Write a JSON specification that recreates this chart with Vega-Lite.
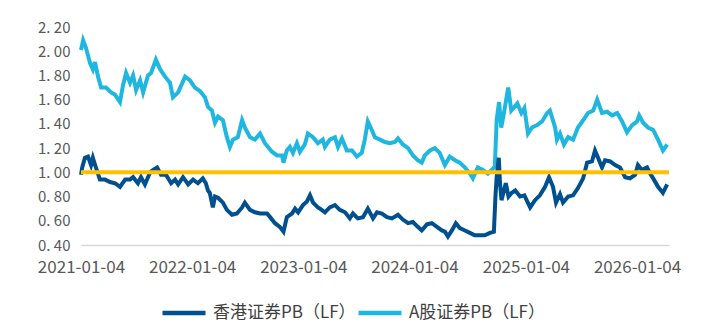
{
  "$schema": "https://vega.github.io/schema/vega-lite/v6.json",
  "width": 588,
  "height": 218,
  "autosize": {"type": "none"},
  "padding": {"left": 81, "top": 27, "right": 43, "bottom": 88},
  "background": "white",
  "config": {"view": {"stroke": null}, "font": "Noto Sans CJK SC"},
  "datasets": {
    "a": [
      {"d": "2021-01-04", "v": 2.01}, {"d": "2021-01-11", "v": 2.09}, {"d": "2021-01-20", "v": 2.03}, {"d": "2021-02-03", "v": 1.90},
      {"d": "2021-02-12", "v": 1.85}, {"d": "2021-02-19", "v": 1.91}, {"d": "2021-03-01", "v": 1.79}, {"d": "2021-03-11", "v": 1.70},
      {"d": "2021-03-27", "v": 1.70}, {"d": "2021-04-13", "v": 1.66}, {"d": "2021-04-26", "v": 1.64}, {"d": "2021-05-12", "v": 1.58},
      {"d": "2021-05-22", "v": 1.72}, {"d": "2021-06-01", "v": 1.82}, {"d": "2021-06-14", "v": 1.74}, {"d": "2021-06-24", "v": 1.80},
      {"d": "2021-07-04", "v": 1.68}, {"d": "2021-07-17", "v": 1.76}, {"d": "2021-07-27", "v": 1.66}, {"d": "2021-08-12", "v": 1.80},
      {"d": "2021-08-22", "v": 1.82}, {"d": "2021-09-07", "v": 1.93}, {"d": "2021-09-21", "v": 1.85}, {"d": "2021-10-07", "v": 1.79},
      {"d": "2021-10-23", "v": 1.74}, {"d": "2021-11-02", "v": 1.62}, {"d": "2021-11-19", "v": 1.66}, {"d": "2021-12-12", "v": 1.79},
      {"d": "2021-12-28", "v": 1.76}, {"d": "2022-01-13", "v": 1.70}, {"d": "2022-01-30", "v": 1.67}, {"d": "2022-02-15", "v": 1.62},
      {"d": "2022-02-25", "v": 1.54}, {"d": "2022-03-10", "v": 1.51}, {"d": "2022-03-20", "v": 1.41}, {"d": "2022-03-30", "v": 1.46},
      {"d": "2022-04-15", "v": 1.43}, {"d": "2022-04-28", "v": 1.29}, {"d": "2022-05-08", "v": 1.21}, {"d": "2022-05-18", "v": 1.27},
      {"d": "2022-06-03", "v": 1.29}, {"d": "2022-06-17", "v": 1.43}, {"d": "2022-06-26", "v": 1.37}, {"d": "2022-07-13", "v": 1.29},
      {"d": "2022-07-29", "v": 1.27}, {"d": "2022-08-15", "v": 1.32}, {"d": "2022-08-31", "v": 1.24}, {"d": "2022-09-23", "v": 1.17},
      {"d": "2022-10-10", "v": 1.14}, {"d": "2022-10-26", "v": 1.14}, {"d": "2022-10-31", "v": 1.08}, {"d": "2022-11-11", "v": 1.18},
      {"d": "2022-11-21", "v": 1.21}, {"d": "2022-12-01", "v": 1.16}, {"d": "2022-12-14", "v": 1.24}, {"d": "2022-12-24", "v": 1.17},
      {"d": "2023-01-09", "v": 1.23}, {"d": "2023-01-19", "v": 1.32}, {"d": "2023-02-05", "v": 1.29}, {"d": "2023-02-21", "v": 1.24},
      {"d": "2023-03-09", "v": 1.27}, {"d": "2023-03-16", "v": 1.21}, {"d": "2023-04-01", "v": 1.27}, {"d": "2023-04-18", "v": 1.29},
      {"d": "2023-04-28", "v": 1.21}, {"d": "2023-05-11", "v": 1.28}, {"d": "2023-05-27", "v": 1.18}, {"d": "2023-06-13", "v": 1.18},
      {"d": "2023-06-29", "v": 1.13}, {"d": "2023-07-15", "v": 1.16}, {"d": "2023-07-25", "v": 1.27}, {"d": "2023-08-04", "v": 1.42},
      {"d": "2023-08-17", "v": 1.35}, {"d": "2023-08-27", "v": 1.29}, {"d": "2023-09-13", "v": 1.27}, {"d": "2023-09-29", "v": 1.25},
      {"d": "2023-10-15", "v": 1.24}, {"d": "2023-11-01", "v": 1.25}, {"d": "2023-11-11", "v": 1.28}, {"d": "2023-11-27", "v": 1.23},
      {"d": "2023-12-14", "v": 1.20}, {"d": "2023-12-30", "v": 1.14}, {"d": "2024-01-15", "v": 1.10}, {"d": "2024-01-28", "v": 1.08},
      {"d": "2024-02-07", "v": 1.14}, {"d": "2024-02-24", "v": 1.18}, {"d": "2024-03-11", "v": 1.20}, {"d": "2024-03-27", "v": 1.16},
      {"d": "2024-04-13", "v": 1.06}, {"d": "2024-04-29", "v": 1.13}, {"d": "2024-05-16", "v": 1.10}, {"d": "2024-06-01", "v": 1.08},
      {"d": "2024-06-18", "v": 1.04}, {"d": "2024-07-04", "v": 0.99}, {"d": "2024-07-14", "v": 0.95}, {"d": "2024-07-30", "v": 1.04},
      {"d": "2024-08-16", "v": 1.02}, {"d": "2024-09-01", "v": 0.99}, {"d": "2024-09-18", "v": 1.03}, {"d": "2024-09-24", "v": 1.05},
      {"d": "2024-09-30", "v": 1.43}, {"d": "2024-10-08", "v": 1.58}, {"d": "2024-10-15", "v": 1.37}, {"d": "2024-10-24", "v": 1.49},
      {"d": "2024-11-07", "v": 1.70}, {"d": "2024-11-17", "v": 1.51}, {"d": "2024-11-27", "v": 1.54}, {"d": "2024-12-07", "v": 1.57},
      {"d": "2024-12-20", "v": 1.49}, {"d": "2024-12-30", "v": 1.53}, {"d": "2025-01-11", "v": 1.32}, {"d": "2025-01-24", "v": 1.37},
      {"d": "2025-02-10", "v": 1.39}, {"d": "2025-02-26", "v": 1.42}, {"d": "2025-03-15", "v": 1.49}, {"d": "2025-03-24", "v": 1.51},
      {"d": "2025-04-10", "v": 1.37}, {"d": "2025-04-16", "v": 1.27}, {"d": "2025-04-26", "v": 1.32}, {"d": "2025-05-09", "v": 1.23},
      {"d": "2025-05-23", "v": 1.29}, {"d": "2025-06-08", "v": 1.27}, {"d": "2025-06-24", "v": 1.37}, {"d": "2025-07-11", "v": 1.43},
      {"d": "2025-07-27", "v": 1.49}, {"d": "2025-08-13", "v": 1.51}, {"d": "2025-08-26", "v": 1.60}, {"d": "2025-09-11", "v": 1.49},
      {"d": "2025-09-28", "v": 1.50}, {"d": "2025-10-14", "v": 1.47}, {"d": "2025-10-31", "v": 1.49}, {"d": "2025-11-16", "v": 1.42},
      {"d": "2025-12-02", "v": 1.33}, {"d": "2025-12-19", "v": 1.39}, {"d": "2026-01-04", "v": 1.42}, {"d": "2026-01-11", "v": 1.47},
      {"d": "2026-01-24", "v": 1.41}, {"d": "2026-02-09", "v": 1.37}, {"d": "2026-02-26", "v": 1.35}, {"d": "2026-03-14", "v": 1.27},
      {"d": "2026-03-30", "v": 1.18}, {"d": "2026-04-13", "v": 1.23}
    ],
    "hk": [
      {"d": "2021-01-04", "v": 0.98}, {"d": "2021-01-08", "v": 1.04}, {"d": "2021-01-17", "v": 1.12}, {"d": "2021-01-27", "v": 1.13},
      {"d": "2021-02-06", "v": 1.06}, {"d": "2021-02-12", "v": 1.12}, {"d": "2021-02-22", "v": 1.04}, {"d": "2021-03-07", "v": 0.94},
      {"d": "2021-03-24", "v": 0.94}, {"d": "2021-04-09", "v": 0.92}, {"d": "2021-04-26", "v": 0.91}, {"d": "2021-05-12", "v": 0.88},
      {"d": "2021-05-29", "v": 0.94}, {"d": "2021-06-14", "v": 0.94}, {"d": "2021-06-24", "v": 0.96}, {"d": "2021-07-10", "v": 0.91},
      {"d": "2021-07-20", "v": 0.96}, {"d": "2021-08-02", "v": 0.90}, {"d": "2021-08-19", "v": 1.00}, {"d": "2021-08-29", "v": 1.02},
      {"d": "2021-09-11", "v": 1.04}, {"d": "2021-09-24", "v": 0.98}, {"d": "2021-10-10", "v": 0.98}, {"d": "2021-10-27", "v": 0.91},
      {"d": "2021-11-09", "v": 0.94}, {"d": "2021-11-19", "v": 0.90}, {"d": "2021-12-05", "v": 0.96}, {"d": "2021-12-22", "v": 0.90},
      {"d": "2022-01-07", "v": 0.94}, {"d": "2022-01-23", "v": 0.91}, {"d": "2022-02-08", "v": 0.95}, {"d": "2022-02-18", "v": 0.91},
      {"d": "2022-02-25", "v": 0.85}, {"d": "2022-03-03", "v": 0.83}, {"d": "2022-03-13", "v": 0.71}, {"d": "2022-03-20", "v": 0.80},
      {"d": "2022-03-30", "v": 0.79}, {"d": "2022-04-15", "v": 0.75}, {"d": "2022-04-28", "v": 0.69}, {"d": "2022-05-15", "v": 0.65},
      {"d": "2022-05-31", "v": 0.66}, {"d": "2022-06-17", "v": 0.71}, {"d": "2022-06-26", "v": 0.75}, {"d": "2022-07-13", "v": 0.69},
      {"d": "2022-07-29", "v": 0.67}, {"d": "2022-08-15", "v": 0.66}, {"d": "2022-09-07", "v": 0.66}, {"d": "2022-09-17", "v": 0.63},
      {"d": "2022-10-03", "v": 0.58}, {"d": "2022-10-19", "v": 0.55}, {"d": "2022-10-31", "v": 0.51}, {"d": "2022-11-11", "v": 0.63},
      {"d": "2022-11-28", "v": 0.66}, {"d": "2022-12-08", "v": 0.70}, {"d": "2022-12-18", "v": 0.67}, {"d": "2023-01-03", "v": 0.73},
      {"d": "2023-01-16", "v": 0.76}, {"d": "2023-01-26", "v": 0.81}, {"d": "2023-02-05", "v": 0.75}, {"d": "2023-02-21", "v": 0.71},
      {"d": "2023-02-28", "v": 0.70}, {"d": "2023-03-16", "v": 0.67}, {"d": "2023-04-01", "v": 0.71}, {"d": "2023-04-18", "v": 0.73},
      {"d": "2023-05-04", "v": 0.69}, {"d": "2023-05-21", "v": 0.67}, {"d": "2023-06-06", "v": 0.62}, {"d": "2023-06-16", "v": 0.66},
      {"d": "2023-07-02", "v": 0.62}, {"d": "2023-07-19", "v": 0.63}, {"d": "2023-08-04", "v": 0.70}, {"d": "2023-08-21", "v": 0.62},
      {"d": "2023-09-03", "v": 0.67}, {"d": "2023-09-19", "v": 0.66}, {"d": "2023-10-06", "v": 0.63}, {"d": "2023-10-22", "v": 0.62},
      {"d": "2023-11-11", "v": 0.65}, {"d": "2023-11-27", "v": 0.61}, {"d": "2023-12-14", "v": 0.58}, {"d": "2023-12-30", "v": 0.59},
      {"d": "2024-01-15", "v": 0.55}, {"d": "2024-01-28", "v": 0.52}, {"d": "2024-02-14", "v": 0.57}, {"d": "2024-03-01", "v": 0.58},
      {"d": "2024-03-18", "v": 0.55}, {"d": "2024-04-03", "v": 0.52}, {"d": "2024-04-13", "v": 0.51}, {"d": "2024-04-23", "v": 0.47},
      {"d": "2024-05-06", "v": 0.52}, {"d": "2024-05-19", "v": 0.58}, {"d": "2024-06-01", "v": 0.54}, {"d": "2024-06-18", "v": 0.52},
      {"d": "2024-07-04", "v": 0.50}, {"d": "2024-07-20", "v": 0.48}, {"d": "2024-08-06", "v": 0.48}, {"d": "2024-08-22", "v": 0.48},
      {"d": "2024-09-08", "v": 0.50}, {"d": "2024-09-21", "v": 0.51}, {"d": "2024-09-26", "v": 0.80}, {"d": "2024-09-30", "v": 0.96},
      {"d": "2024-10-07", "v": 1.12}, {"d": "2024-10-11", "v": 0.91}, {"d": "2024-10-16", "v": 0.77}, {"d": "2024-10-30", "v": 0.91},
      {"d": "2024-11-08", "v": 0.80}, {"d": "2024-11-18", "v": 0.83}, {"d": "2024-11-30", "v": 0.85}, {"d": "2024-12-16", "v": 0.80},
      {"d": "2024-12-30", "v": 0.81}, {"d": "2025-01-18", "v": 0.71}, {"d": "2025-02-03", "v": 0.77}, {"d": "2025-02-19", "v": 0.81},
      {"d": "2025-03-08", "v": 0.88}, {"d": "2025-03-21", "v": 0.96}, {"d": "2025-04-03", "v": 0.88}, {"d": "2025-04-13", "v": 0.75},
      {"d": "2025-04-26", "v": 0.82}, {"d": "2025-05-06", "v": 0.75}, {"d": "2025-05-23", "v": 0.80}, {"d": "2025-06-08", "v": 0.81},
      {"d": "2025-06-24", "v": 0.87}, {"d": "2025-07-11", "v": 0.95}, {"d": "2025-07-24", "v": 1.08}, {"d": "2025-08-09", "v": 1.09},
      {"d": "2025-08-19", "v": 1.18}, {"d": "2025-08-29", "v": 1.12}, {"d": "2025-09-11", "v": 1.04}, {"d": "2025-09-21", "v": 1.10},
      {"d": "2025-10-08", "v": 1.09}, {"d": "2025-10-24", "v": 1.06}, {"d": "2025-11-09", "v": 1.04}, {"d": "2025-11-26", "v": 0.96},
      {"d": "2025-12-12", "v": 0.95}, {"d": "2025-12-29", "v": 0.98}, {"d": "2026-01-07", "v": 1.06}, {"d": "2026-01-20", "v": 1.02},
      {"d": "2026-02-06", "v": 1.04}, {"d": "2026-02-16", "v": 0.99}, {"d": "2026-02-26", "v": 0.95}, {"d": "2026-03-14", "v": 0.88},
      {"d": "2026-03-30", "v": 0.83}, {"d": "2026-04-13", "v": 0.90}
    ],
    "ref": [{"v": 1.0}]
  },
  "encoding": {
    "y": {
      "field": "v",
      "type": "quantitative",
      "scale": {"domain": [0.4, 2.2], "nice": false, "zero": false},
      "axis": {
        "values": [0.4, 0.6, 0.8, 1.0, 1.2, 1.4, 1.6, 1.8, 2.0, 2.2],
        "labelExpr": "replace(format(datum.value, '.2f'), '.', '. ')",
        "domain": false, "ticks": false, "grid": false,
        "labelPadding": 11, "labelFontSize": 15, "labelColor": "#595959",
        "labelFont": "Noto Sans CJK SC", "title": null
      }
    }
  },
  "layer": [
    {
      "data": {"name": "a"},
      "mark": {"type": "line", "strokeWidth": 4},
      "encoding": {
        "x": {
          "field": "d", "type": "temporal",
          "scale": {"type": "utc", "domain": [{"year": 2021, "month": 1, "date": 4, "utc": true}, {"year": 2026, "month": 4, "date": 19, "utc": true}]},
          "axis": {
            "values": [{"year": 2021, "month": 1, "date": 4, "utc": true}, {"year": 2022, "month": 1, "date": 4, "utc": true}, {"year": 2023, "month": 1, "date": 4, "utc": true}, {"year": 2024, "month": 1, "date": 4, "utc": true}, {"year": 2025, "month": 1, "date": 4, "utc": true}, {"year": 2026, "month": 1, "date": 4, "utc": true}],
            "labelExpr": "utcFormat(datum.value, '%Y-%m-%d')",
            "domainColor": "#D9D9D9", "domainWidth": 1.5, "ticks": false, "grid": false,
            "labelPadding": 14, "labelFontSize": 17, "labelColor": "#595959", "labelFont": "Noto Sans CJK SC",
            "labelFlush": false, "labelOverlap": false, "title": null
          }
        },
        "color": {
          "datum": "A股证券PB（LF）",
          "scale": {"domain": ["香港证券PB（LF）", "A股证券PB（LF）"], "range": ["#00508F", "#1FB6E0"]},
          "legend": {
            "orient": "none", "legendX": 79, "legendY": 262, "direction": "horizontal", "title": null,
            "symbolType": "stroke", "symbolSize": 1849, "symbolStrokeWidth": 4.5,
            "labelFontSize": 17, "labelColor": "#404040", "labelFont": "Noto Sans CJK SC",
            "labelOffset": 5, "columnPadding": -16
          }
        }
      }
    },
    {
      "data": {"name": "hk"},
      "mark": {"type": "line", "strokeWidth": 4},
      "encoding": {
        "x": {
          "field": "d", "type": "temporal",
          "scale": {"type": "utc", "domain": [{"year": 2021, "month": 1, "date": 4, "utc": true}, {"year": 2026, "month": 4, "date": 19, "utc": true}]},
          "axis": {
            "values": [{"year": 2021, "month": 1, "date": 4, "utc": true}, {"year": 2022, "month": 1, "date": 4, "utc": true}, {"year": 2023, "month": 1, "date": 4, "utc": true}, {"year": 2024, "month": 1, "date": 4, "utc": true}, {"year": 2025, "month": 1, "date": 4, "utc": true}, {"year": 2026, "month": 1, "date": 4, "utc": true}],
            "labelExpr": "utcFormat(datum.value, '%Y-%m-%d')",
            "domainColor": "#D9D9D9", "domainWidth": 1.5, "ticks": false, "grid": false,
            "labelPadding": 14, "labelFontSize": 17, "labelColor": "#595959", "labelFont": "Noto Sans CJK SC",
            "labelFlush": false, "labelOverlap": false, "title": null
          }
        },
        "color": {"datum": "香港证券PB（LF）"}
      }
    },
    {
      "data": {"name": "ref"},
      "mark": {"type": "rule", "color": "#FFC000", "strokeWidth": 4},
      "encoding": {"y": {"field": "v", "type": "quantitative"}}
    }
  ]
}
